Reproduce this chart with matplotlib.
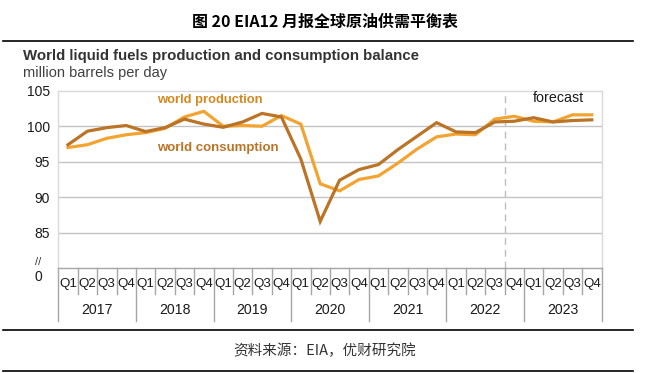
import matplotlib
matplotlib.use("Agg")
import matplotlib.pyplot as plt
import matplotlib.transforms as mtransforms
from matplotlib.lines import Line2D

# 数据 (million barrels per day)
years = ["2017", "2018", "2019", "2020", "2021", "2022", "2023"]
quarters = ["Q1", "Q2", "Q3", "Q4"]
production = [97.0, 97.4, 98.3, 98.8, 99.1, 99.7, 101.3, 102.1,
              100.0, 100.1, 100.0, 101.5, 100.3, 91.9, 90.9, 92.5,
              93.0, 94.8, 96.8, 98.5, 98.9, 98.8, 101.0, 101.4,
              100.7, 100.6, 101.6, 101.6]
consumption = [97.4, 99.3, 99.8, 100.1, 99.25, 99.8, 101.0, 100.3,
               99.85, 100.6, 101.8, 101.3, 95.4, 86.6, 92.4, 93.9,
               94.6, 96.7, 98.6, 100.5, 99.2, 99.1, 100.6, 100.7,
               101.2, 100.6, 100.8, 100.9]
yticks = [85, 90, 95, 100, 105]
forecast_start = 23  # 2022 Q4

W, H = 650, 373
c_prod = "#F2A330"
c_cons = "#BB7426"

plt.rcParams["font.family"] = ["Liberation Sans", "DejaVu Sans"]
cjk = ["Noto Sans CJK SC", "DejaVu Sans"]

fig = plt.figure(figsize=(W / 100, H / 100), dpi=100)
fig.patch.set_facecolor("white")

def fx(px):
    return px / W

def fy(py):
    return 1 - py / H

# 标题和黑线
fig.text(0.5, fy(27), "图 20 EIA12 月报全球原油供需平衡表", family=cjk,
         fontsize=11.5, fontweight="bold", ha="center", va="baseline")
fig.add_artist(Line2D([fx(3), fx(633)], [fy(41), fy(41)], color="black", lw=1.2))
fig.add_artist(Line2D([fx(3), fx(633)], [fy(329.5), fy(329.5)], color="black", lw=1.2))
fig.add_artist(Line2D([fx(3), fx(633)], [fy(370.5), fy(370.5)], color="black", lw=1.2))
fig.text(0.5, fy(351), "资料来源：EIA，优财研究院", family=cjk, fontsize=10.5,
         color="#333333", ha="center", va="center")

fig.text(fx(23), fy(60), "World liquid fuels production and consumption balance",
         fontsize=10.8, fontweight="bold", color="#333333", va="baseline")
fig.text(fx(23), fy(77.3), "million barrels per day", fontsize=10.5,
         color="#404040", va="baseline")

left, right, top, bottom = 58.3, 601.5, 90.7, 268.3
ax = fig.add_axes([fx(left), fy(bottom), fx(right - left), (bottom - top) / H])

n = len(production)
x = list(range(n))
ax.plot(x, production, color=c_prod, lw=2.3, solid_joinstyle="miter", zorder=3)
ax.plot(x, consumption, color=c_cons, lw=2.3, solid_joinstyle="miter", zorder=4)

ax.set_xlim(-0.5, n - 0.5)
ax.set_ylim(80, 105)
ax.set_yticks(yticks)
ax.set_yticklabels([str(v) for v in yticks], fontsize=10, color="#1a1a1a")
ax.tick_params(axis="y", length=0, pad=6)
ax.set_xticks([])
for v in yticks[:-1]:
    ax.axhline(v, color="#C4C4C4", lw=1.0, zorder=1)
for s in ["top", "left", "right"]:
    ax.spines[s].set_color("#D9D9D9")
    ax.spines[s].set_linewidth(1.0)
ax.spines["bottom"].set_color("#A6A6A6")
ax.spines["bottom"].set_linewidth(1.0)

ax.axvline(forecast_start - 0.5, color="#BDBDBD", lw=1.0, ls=(0, (5, 3.5)), zorder=2)
ax.text(forecast_start + 2.3, 104.0, "forecast", fontsize=10.3, color="#1a1a1a",
        ha="center", va="center")

ax.text(4.6, 103.75, "world production", fontsize=9.4, fontweight="bold",
        color="#D4891E", ha="left", va="center")
ax.text(4.6, 97.0, "world consumption", fontsize=9.5, fontweight="bold",
        color=c_cons, ha="left", va="center")

# 纵轴断开标记
fig.text(fx(38), fy(262), "//", fontsize=8, color="#333333", ha="center", va="center")
fig.text(fx(38.5), fy(277), "0", fontsize=10, color="#1a1a1a", ha="center", va="center")

# 横轴分类表格
trans = mtransforms.blended_transform_factory(ax.transData, ax.transAxes)
span = bottom - top
q_end = -(294 - bottom) / span
y_end = -(321 - bottom) / span
for i in range(n + 1):
    yb = y_end if i % 4 == 0 else q_end
    ax.add_artist(Line2D([i - 0.5, i - 0.5], [0, yb], transform=trans,
                         color="#A6A6A6", lw=1.0, clip_on=False))
for i in range(n):
    ax.text(i, -(283.5 - bottom) / span, quarters[i % 4], transform=trans,
            fontsize=9.6, ha="center", va="center", color="#1a1a1a")
for k, yr in enumerate(years):
    ax.text(4 * k + 1.5, -(310 - bottom) / span, yr, transform=trans,
            fontsize=10.2, ha="center", va="center", color="#1a1a1a")

fig.savefig("out.png", dpi=100)
